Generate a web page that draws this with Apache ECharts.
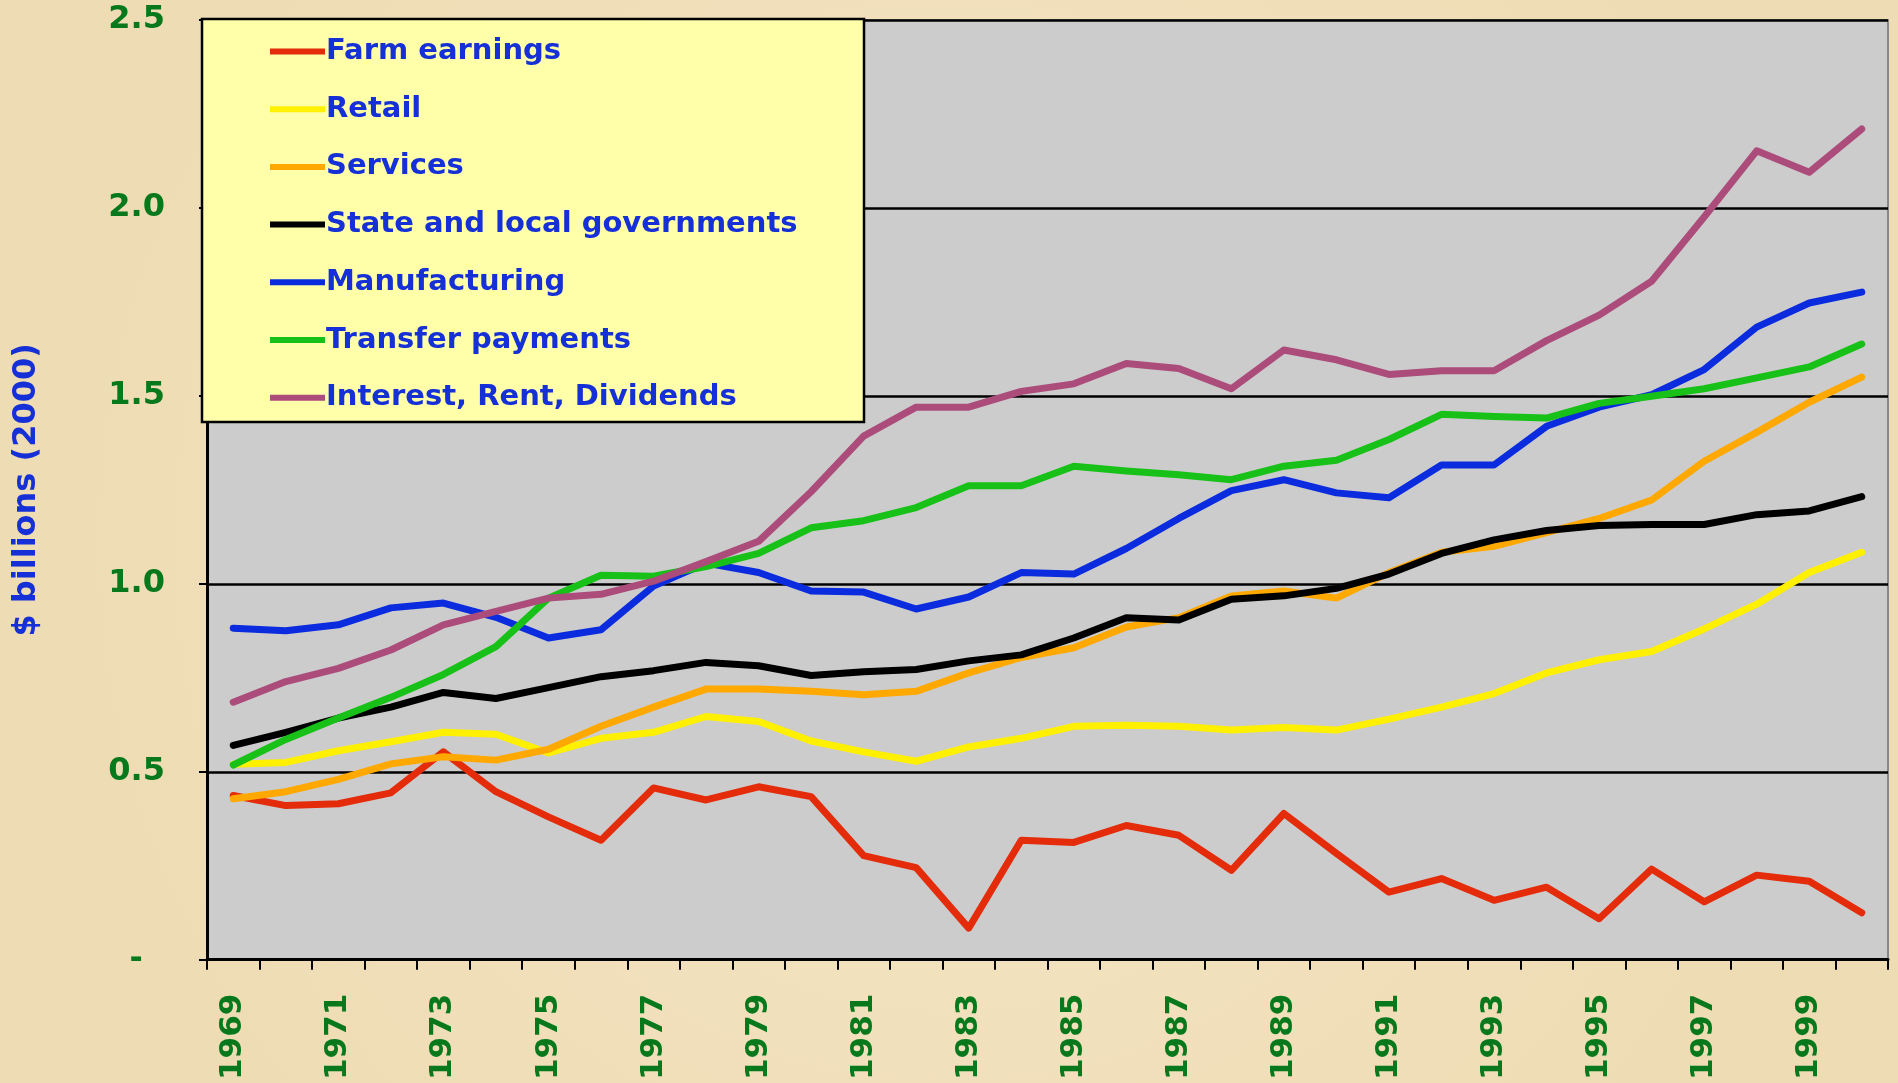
<!DOCTYPE html>
<html>
<head>
<meta charset="utf-8">
<script src="https://cdn.jsdelivr.net/npm/echarts@6/dist/echarts.min.js"></script>
<style>
  html, body { margin: 0; padding: 0; background: #f0dfb9; }
  #main { width: 1898px; height: 1083px; }
</style>
</head>
<body>
<div id="main"></div>
<script>
// 年份
const years = []
for (let y = 1969; y <= 2000; y++) years.push(String(y))

// 各系列数据 ($ billions, 2000)
const farm = [0.437, 0.41, 0.415, 0.444, 0.553, 0.447, 0.38, 0.318, 0.457, 0.425, 0.46, 0.434, 0.277, 0.245, 0.084, 0.318,
  0.312, 0.357, 0.331, 0.238, 0.389, 0.283, 0.18, 0.216, 0.158, 0.193, 0.109, 0.241, 0.154, 0.225, 0.209, 0.125]
const retail = [0.52, 0.525, 0.556, 0.58, 0.605, 0.6, 0.55, 0.589, 0.605, 0.647, 0.634, 0.582, 0.553, 0.528, 0.566, 0.589,
  0.621, 0.624, 0.621, 0.611, 0.618, 0.611, 0.64, 0.672, 0.708, 0.763, 0.798, 0.82, 0.88, 0.946, 1.03, 1.084]
const services = [0.428, 0.447, 0.48, 0.521, 0.54, 0.531, 0.56, 0.621, 0.672, 0.72, 0.72, 0.714, 0.705, 0.714, 0.763, 0.804,
  0.83, 0.885, 0.91, 0.968, 0.981, 0.962, 1.03, 1.084, 1.1, 1.136, 1.174, 1.223, 1.326, 1.403, 1.483, 1.55]
const stateLocal = [0.57, 0.605, 0.643, 0.672, 0.711, 0.695, 0.724, 0.753, 0.769, 0.791, 0.782, 0.756, 0.766, 0.772, 0.795, 0.811,
  0.856, 0.91, 0.904, 0.959, 0.968, 0.988, 1.026, 1.081, 1.117, 1.142, 1.155, 1.158, 1.158, 1.184, 1.194, 1.232]
const manufacturing = [0.882, 0.875, 0.891, 0.936, 0.949, 0.911, 0.856, 0.878, 0.994, 1.055, 1.03, 0.981, 0.978, 0.933, 0.965, 1.03,
  1.026, 1.094, 1.174, 1.248, 1.277, 1.242, 1.229, 1.316, 1.316, 1.419, 1.47, 1.503, 1.57, 1.683, 1.747, 1.776]
const transfer = [0.518, 0.586, 0.643, 0.698, 0.759, 0.833, 0.962, 1.023, 1.02, 1.046, 1.081, 1.149, 1.168, 1.203, 1.261, 1.261,
  1.313, 1.3, 1.29, 1.277, 1.313, 1.329, 1.384, 1.451, 1.445, 1.441, 1.48, 1.499, 1.519, 1.548, 1.577, 1.638]
const interest = [0.685, 0.74, 0.775, 0.824, 0.891, 0.927, 0.962, 0.972, 1.007, 1.059, 1.113, 1.245, 1.393, 1.47, 1.47, 1.512,
  1.532, 1.586, 1.573, 1.519, 1.622, 1.596, 1.557, 1.567, 1.567, 1.647, 1.715, 1.805, 1.976, 2.152, 2.095, 2.21]

const seriesNames = ['Farm earnings', 'Retail', 'Services', 'State and local governments', 'Manufacturing', 'Transfer payments', 'Interest, Rent, Dividends']
const seriesData = [farm, retail, services, stateLocal, manufacturing, transfer, interest]
const seriesColors = ['#e42b0a', '#fff000', '#ffa800', '#000000', '#0a2bde', '#17c117', '#ab4c7b']

const green = '#08781c'
const blue = '#1430d6'
const font = 'DejaVu Sans'

const myChart = echarts.init(document.querySelector('#main'))
const option = {
  backgroundColor: {
    type: 'radial',
    x: 0.5,
    y: 0.5,
    r: 0.8,
    colorStops: [
      { offset: 0, color: '#f5e6c6' },
      { offset: 1, color: '#eedcb4' }
    ]
  },
  animation: false,
  grid: {
    left: 207,
    right: 10,
    top: 20,
    bottom: 122,
    show: true,
    backgroundColor: '#cccccc',
    borderColor: '#888888',
    borderWidth: 2
  },
  legend: {
    orient: 'vertical',
    left: 270,
    top: 37,
    padding: 0,
    itemGap: 28.7,
    itemWidth: 55,
    itemHeight: 6,
    icon: 'rect',
    z: 20,
    textStyle: {
      color: blue,
      fontFamily: font,
      fontWeight: 'bold',
      fontSize: 29,
      padding: [0, 0, 0, -4]
    },
    data: seriesNames
  },
  graphic: [{
    type: 'rect',
    z: 10,
    shape: { x: 202, y: 19, width: 662, height: 403 },
    style: { fill: '#ffffaa', stroke: '#000', lineWidth: 2.5 }
  }],
  xAxis: {
    type: 'category',
    boundaryGap: true,
    data: years,
    axisLine: { lineStyle: { color: '#000', width: 3 } },
    axisTick: { show: true, interval: 0, length: 10, lineStyle: { color: '#000', width: 2 } },
    axisLabel: {
      interval: 1,
      rotate: 90,
      margin: 34,
      color: green,
      fontFamily: font,
      fontWeight: 'bold',
      fontSize: 31
    },
    splitLine: { show: false }
  },
  yAxis: {
    type: 'value',
    min: 0,
    max: 2.5,
    interval: 0.5,
    name: '$ billions (2000)',
    nameLocation: 'middle',
    nameGap: 164,
    nameTextStyle: {
      color: blue,
      fontFamily: font,
      fontWeight: 'bold',
      fontSize: 32
    },
    axisLine: { show: true, lineStyle: { color: '#000', width: 3 } },
    axisTick: { show: true, length: 8, lineStyle: { color: '#000', width: 2 } },
    axisLabel: {
      margin: 42,
      color: green,
      fontFamily: font,
      fontWeight: 'bold',
      fontSize: 32,
      formatter: v => (v === 0 ? '-  ' : v.toFixed(1))
    },
    splitLine: { lineStyle: { color: '#000', width: 2.5 } }
  },
  series: seriesNames.map((name, i) => ({
    name: name,
    type: 'line',
    data: seriesData[i],
    showSymbol: false,
    symbol: 'none',
    color: seriesColors[i],
    lineStyle: { width: 7, color: seriesColors[i], cap: 'round', join: 'round' }
  }))
}
myChart.setOption(option)
</script>
</body>
</html>
